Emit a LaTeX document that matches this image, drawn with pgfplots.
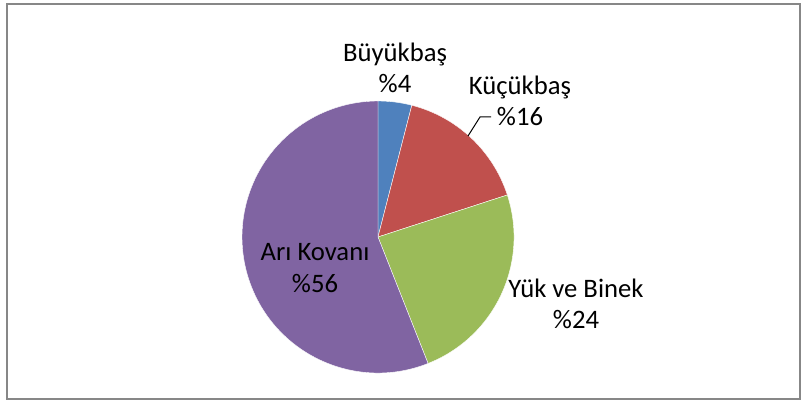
\documentclass[border=0pt]{standalone}
\usepackage{pgfplots}
\usepackage{pgfplotstable}
\pgfplotsset{compat=1.18}
\usepackage{fontspec}
\setmainfont{Carlito}
\definecolor{sBlue}{HTML}{4F81BD}
\definecolor{sRed}{HTML}{C0504D}
\definecolor{sGreen}{HTML}{9BBB59}
\definecolor{sPurple}{HTML}{8064A2}
\definecolor{frameGray}{HTML}{878787}
\pgfplotstableread[col sep=comma]{
label,pct,col
Büyükbaş,4,sBlue
Küçükbaş,16,sRed
Yük ve Binek,24,sGreen
Arı Kovanı,56,sPurple
}\piedata
\begin{document}%
\begin{tikzpicture}%
\begin{axis}[hide axis, scale only axis, x=0.75bp, y=0.75bp,
  xmin=0, xmax=801, ymin=0, ymax=401, clip=false]%
\draw[frameGray, line width=1.5bp] (axis cs:7,2) rectangle (axis cs:799.5,397);%
\def\cum{0}%
\pgfplotsforeachungrouped \i in {0,1,2,3}{%
  \pgfplotstablegetelem{\i}{pct}\of\piedata\let\p=\pgfplotsretval%
  \pgfplotstablegetelem{\i}{col}\of\piedata\let\c=\pgfplotsretval%
  \pgfmathsetmacro\sa{90-3.6*\cum}%
  \pgfmathsetmacro\ea{90-3.6*(\cum+\p)}%
  \edef\tmp{\noexpand\fill[\c, draw=white, line width=0.3bp] (axis cs:378,164) -- ++(\sa:102bp) arc[start angle=\sa, end angle=\ea, radius=102bp] -- cycle;}%
  \tmp%
  \pgfmathsetmacro\cum{\cum+\p}%
}%
\tikzset{lbl/.style={align=center, font=\fontsize{20bp}{23.5bp}\selectfont, inner sep=0pt}}%
\node[lbl] at (axis cs:395,333) {Büyükbaş\\\%4};%
\node[lbl] at (axis cs:520,300) {Küçükbaş\\\%16};%
\node[lbl] at (axis cs:576,97) {Yük ve Binek\\\%24};%
\node[lbl] at (axis cs:315,133) {Arı Kovanı\\\%56};%
\draw[black, line width=0.75bp] (axis cs:468,265) -- (axis cs:480,284) -- (axis cs:491,284);%
\end{axis}%
\pgfresetboundingbox
\path (current axis.south west) rectangle (current axis.north east);%
\end{tikzpicture}%
\end{document}
